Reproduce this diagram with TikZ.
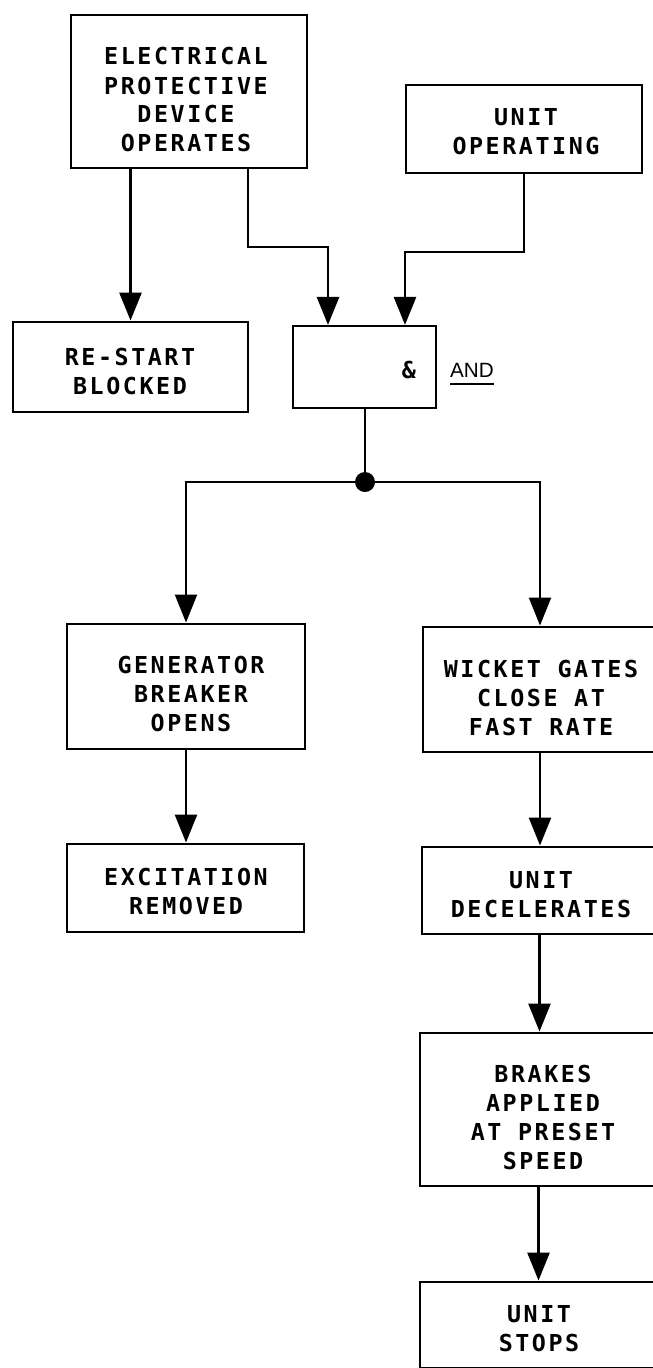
\documentclass[tikz,border=0pt]{standalone}
\usepackage{fontspec}
\newfontfamily\lbfont[LetterSpace=11]{DejaVu Sans Mono}
\newfontfamily\andfont{Liberation Sans}
\usetikzlibrary{arrows.meta}
\begin{document}
\begin{tikzpicture}[x=0.75pt,y=-0.75pt,
  box/.style={draw, line width=2.2pt, inner sep=0pt},
  lbl/.style={align=center, inner sep=0pt, font=\lbfont\bfseries\fontsize{17.5}{21.75}\selectfont},
  conn/.style={line width=2pt},
  thinconn/.style={line width=1.6pt},
  arr/.style={conn, -{Triangle[length=21pt,width=16.5pt]}},
  thinarr/.style={thinconn, -{Triangle[length=21pt,width=16.5pt]}},
  dotnode/.style={circle, fill, inner sep=0pt, minimum size=15pt}
]
\useasboundingbox (0,0) rectangle (653,1368);

% boxes
\node[box, minimum width=177pt, minimum height=114.75pt] (epd) at (189,91.5) {};
\node[box, minimum width=177pt, minimum height=66pt] (uop) at (524,129) {};
\node[box, minimum width=176.25pt, minimum height=67.5pt] (rs) at (130.5,367) {};
\node[box, line width=1.6pt, minimum width=107.25pt, minimum height=61.5pt] (and) at (364.5,367) {};
\node[box, minimum width=178.5pt, minimum height=93.75pt] (gen) at (186,686.5) {};
\node[box, minimum width=177.75pt, minimum height=66pt] (exc) at (185.5,888) {};
\node[box, minimum width=175.5pt, minimum height=93.75pt] (wg) at (540,689.5) {};
\node[box, minimum width=176.25pt, minimum height=65.25pt] (dec) at (539.5,890.5) {};
\node[box, minimum width=177.75pt, minimum height=114.75pt] (brk) at (538.5,1109.5) {};
\node[box, minimum width=177.75pt, minimum height=64.5pt] (stp) at (538.5,1325) {};

% texts
\node[lbl] (tepd) at (186,100) {ELECTRICAL\\PROTECTIVE\\DEVICE\\OPERATES};
\node[lbl] (tuop) at (526,132) {UNIT\\OPERATING};
\node[lbl] (trs) at (130,371) {RE-START\\BLOCKED};
\node[lbl] (tamp) at (409,370) {\&};
\node[inner sep=0pt, font=\andfont\fontsize{15.5}{18}\selectfont] (tand) at (472,370) {AND};
\draw[line width=1.4pt] ([yshift=-5pt]tand.south west) -- ([yshift=-5pt]tand.south east);
\node[lbl] (tgen) at (191,694) {GENERATOR\\BREAKER\\OPENS};
\node[lbl] (texc) at (186,891.5) {EXCITATION\\REMOVED};
\node[lbl] (twg) at (541,698) {WICKET GATES\\CLOSE AT\\FAST RATE};
\node[lbl] (tdec) at (541,894.5) {UNIT\\DECELERATES};
\node[lbl] (tbrk) at (543,1117) {BRAKES\\APPLIED\\AT PRESET\\SPEED};
\node[lbl] (tstp) at (539,1329) {UNIT\\STOPS};

% junction
\node[dotnode] (j) at (365,482) {};

% connectors
\draw[arr] (epd.south -| rs.north) -- (rs.north);
\draw[arr] (epd.south -| 248,0) -- (248,247) -- (328,247) -- (and.north -| 328,0);
\draw[arr] (uop.south) -- (524,252) -- (405,252) -- (and.north -| 405,0);
\draw[thinconn] (and.south -| j) -- (j.center);
\draw[thinarr] (j.center) -| (gen.north);
\draw[thinarr] (j.center) -| (wg.north);
\draw[arr] (gen.south) -- (gen.south |- exc.north);
\draw[arr] (wg.south) -- (wg.south |- dec.north);
\draw[arr] (dec.south) -- (dec.south |- brk.north);
\draw[arr] (brk.south) -- (brk.south |- stp.north);
\end{tikzpicture}
\end{document}
